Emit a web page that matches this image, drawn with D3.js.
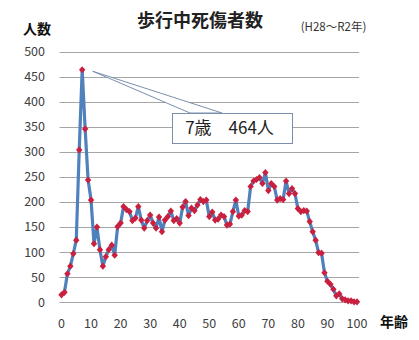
<!DOCTYPE html>
<html><head><meta charset="utf-8">
<script src="https://cdn.jsdelivr.net/npm/d3@7"></script>
<style>body{margin:0;background:#fff;}svg{display:block;font-family:"Noto Sans CJK JP","Noto Sans",sans-serif;}</style>
</head><body>
<svg id="c" width="419" height="340"></svg>
<script>
const ages = d3.range(0, 101);
const counts = [15,20,57,72,97,124,304,464,346,244,204,
117,150,105,72,91,105,114,94,151,158,
191,185,181,163,168,191,164,148,163,174,
158,148,170,141,164,171,182,163,167,158,
190,201,173,188,183,194,205,201,204,171,
180,164,166,174,171,154,156,181,204,172,
174,183,181,231,242,245,249,237,259,223,
237,231,204,207,205,242,217,227,217,187,
181,183,182,161,141,124,99,98,59,42,
36,26,13,17,7,5,3,3,1,1];
const yTicks = [0,50,100,150,200,250,300,350,400,450,500];
const xTicks = [0,10,20,30,40,50,60,70,80,90,100];
const title = "歩行中死傷者数";
const subtitle = "(H28～R2年)";
const yTitle = "人数";
const xTitle = "年齢";
const peakAge = 7, peakValue = 464;
const calloutText = "7歳　464人";

const svg = d3.select("#c");
const x = d3.scaleLinear().domain([0,100]).range([61.5,357]);
const y = d3.scaleLinear().domain([0,500]).range([302.3,51.7]);

// gridlines
svg.append("g").selectAll("line").data(yTicks).join("line")
  .attr("x1",59.5).attr("x2",359).attr("y1",d=>Math.round(y(d))+0.5).attr("y2",d=>Math.round(y(d))+0.5)
  .attr("stroke","#a6a6a6").attr("stroke-width",1);

// y tick labels
svg.append("g").selectAll("text").data(yTicks).join("text")
  .attr("x",45).attr("y",d=>y(d)).attr("dy","0.35em").attr("text-anchor","end")
  .attr("font-size",12.5).attr("fill","#404040").text(d=>d);

// x tick labels
svg.append("g").selectAll("text").data(xTicks).join("text")
  .attr("x",d=>x(d)).attr("y",323.5).attr("dy","0.35em").attr("text-anchor","middle")
  .attr("font-size",12.5).attr("fill","#404040").text(d=>d);

// line
const data = ages.map((a,i)=>({a, v:counts[i]}));
svg.append("path").datum(data)
  .attr("d", d3.line().x(d=>x(d.a)).y(d=>y(d.v)))
  .attr("fill","none").attr("stroke","#4f81bd").attr("stroke-width",3.2).attr("stroke-linejoin","round");

// markers
svg.append("g").selectAll("path").data(data).join("path")
  .attr("transform",d=>`translate(${x(d.a)},${y(d.v)})`)
  .attr("d","M0,-3.6L3.2,0L0,3.6L-3.2,0Z")
  .attr("fill","#c9203f");

// callout
const ax = x(peakAge)+10.5, ay = y(peakValue)+1.5;
const bx = 172, by = 113, bw = 120, bh = 30;
svg.append("path")
  .attr("d",`M${bx+18},${by}L${ax},${ay}L${bx+50},${by}Z`)
  .attr("fill","#fff").attr("stroke","#7b8fad").attr("stroke-width",1);
svg.append("rect").attr("x",bx+0.5).attr("y",by+0.5).attr("width",bw).attr("height",bh)
  .attr("fill","#fff").attr("stroke","#7b8fad").attr("stroke-width",1);
svg.append("text").attr("x",bx+bw/2-2.5).attr("y",by+bh/2+0.5).attr("dy","0.35em")
  .attr("text-anchor","middle").attr("font-size",17).attr("fill","#222").text(calloutText);

// titles
svg.append("text").attr("x",200).attr("y",21).attr("dy","0.35em").attr("text-anchor","middle")
  .attr("font-size",18).attr("font-weight","bold").attr("fill","#222").text(title);
svg.append("text").attr("x",333.5).attr("y",27).attr("dy","0.35em").attr("text-anchor","middle")
  .attr("font-size",11.5).attr("fill","#333").text(subtitle);
svg.append("text").attr("x",23).attr("y",29).attr("dy","0.35em")
  .attr("font-size",14).attr("font-weight","bold").attr("fill","#111").text(yTitle);
svg.append("text").attr("x",380).attr("y",322).attr("dy","0.35em")
  .attr("font-size",14).attr("font-weight","bold").attr("fill","#111").text(xTitle);
</script>
</body></html>
